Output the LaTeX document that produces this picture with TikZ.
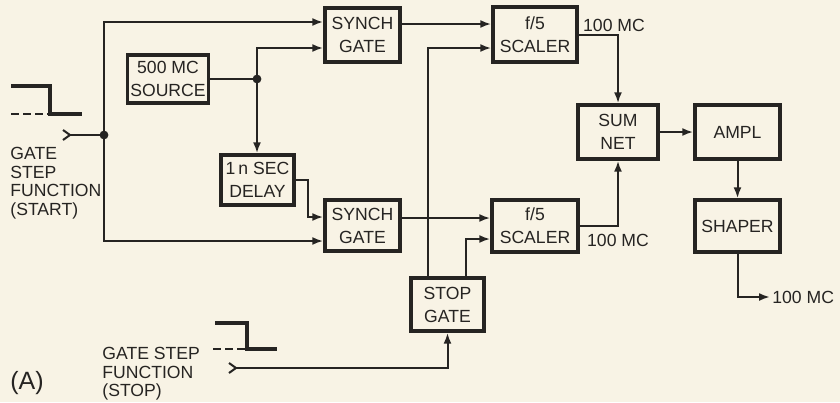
\documentclass[tikz,border=0pt]{standalone}
\usepackage{fontspec}
\setmainfont{Liberation Sans}
\usetikzlibrary{shapes, arrows, positioning, calc}
\usetikzlibrary{arrows.meta}
\definecolor{paper}{RGB}{248,243,229}
\definecolor{ink}{RGB}{38,36,34}

\begin{document}
\begin{tikzpicture}[
    x=0.5pt, y=-0.5pt,
    font=\fontsize{8.8}{11.5}\selectfont,
    block/.style={rectangle, draw=ink, line width=1.7pt, text=ink, align=center, inner sep=0pt},
    line/.style={draw=ink, -{Latex[length=5.5pt, width=4pt]}, line width=1pt},
    wire/.style={draw=ink, line width=1pt},
    tail/.style={draw=ink, {Straight Barb[reversed, length=3.5pt, width=5pt]}-, line width=1pt},
    both/.style={draw=ink, {Straight Barb[reversed, length=3.5pt, width=5pt]}-{Latex[length=5.5pt, width=4pt]}, line width=1pt},
    pulse/.style={draw=ink, line width=1.6pt},
    note/.style={text=ink, inner sep=0pt}
]

\fill [paper] (0,0) rectangle (840,402);
\useasboundingbox (0,0) rectangle (840,402);

% blocks
\node [block, minimum width=40.5pt, minimum height=24pt] (source) at (168,79) {500 MC\\SOURCE};
\node [block, minimum width=37.5pt, minimum height=27pt] (synchA) at (362.5,35) {SYNCH\\GATE};
\node [block, minimum width=42pt, minimum height=27.5pt] (scalerA) at (535,34.5) {f/5\\SCALER};
\node [block, minimum width=36.5pt, minimum height=25pt] (delay) at (257.5,180) {1\,n SEC\\DELAY};
\node [block, minimum width=37.5pt, minimum height=25.5pt] (synchB) at (362.5,225.5) {SYNCH\\GATE};
\node [block, minimum width=43pt, minimum height=26pt] (scalerB) at (535,226) {f/5\\SCALER};
\node [block, minimum width=36.5pt, minimum height=26.5pt] (stop) at (447.5,304.5) {STOP\\GATE};
\node [block, minimum width=40pt, minimum height=27pt] (sum) at (618,132) {SUM\\NET};
\node [block, minimum width=42.5pt, minimum height=27pt] (ampl) at (737.5,132) {AMPL};
\node [block, minimum width=42.5pt, minimum height=26pt] (shaper) at (737.5,226) {SHAPER};

% free ends and junctions
\coordinate (startin) at (62,135);
\coordinate (startdot) at (104,135);
\coordinate (srcdot) at (257,79);
\coordinate (stopin) at (228,368);
\coordinate (out) at (770,297);

% start input
\path [tail] (startin) -- (startdot);
\path [line] (startdot) |- ($(synchA.west)+(0,-13)$);
\path [line] (startdot) |- ($(synchB.west)+(0,15.5)$);
\fill [ink] (startdot) circle (2.2pt);

% source and delay
\path [wire] (source) -- (srcdot);
\path [line] (srcdot) |- ($(synchA.west)+(0,13)$);
\path [line] (srcdot) -- (srcdot |- delay.north);
\fill [ink] (srcdot) circle (2.2pt);
\path [line] (delay.east) -- ++(12,0) |- ($(synchB.west)+(0,-8.5)$);

% gates to scalers
\path [line] ($(synchA.east)+(0,-11)$) coordinate (aout) -- (aout -| scalerA.west);
\path [line] ($(synchB.east)+(0,-7.5)$) coordinate (bout) -- (bout -| scalerB.west);
\path [line] ($(stop.north)+(-19.5,0)$) |- ($(scalerA.west)+(0,13.5)$);
\path [line] ($(stop.north)+(18.5,0)$) |- ($(scalerB.west)+(0,13)$);
\path [both] (stopin) -| (stop);

% summing and output
\path [line] (scalerA) -| (sum);
\path [line] (scalerB) -| (sum);
\path [line] (sum) -- (ampl);
\path [line] (ampl) -- (shaper);
\path [line] (shaper) |- (out);

\node [note] (mcA) at (614,25) {100 MC};
\node [note] (mcB) at (618,240) {100 MC};
\node [note, right=1pt of out] (mcC) {100 MC};

% step functions
\path [pulse] (11,86) -- (50,86) -- (50,114) -- (82,114);
\path [pulse, line width=1.1pt, dash pattern=on 4pt off 2pt] (11,114) -- (50,114);
\path [pulse] (215,323) -- (247,323) -- (247,349) -- (277,349);
\path [pulse, line width=1.1pt, dash pattern=on 4pt off 2pt] (213,349) -- (247,349);

\node [note, anchor=north west, align=left, font=\fontsize{8.8}{9.3}\selectfont] (startlbl) at (10,147) {GATE\\STEP\\FUNCTION\\(START)};
\node [note, anchor=north west, align=left, font=\fontsize{8.8}{9.3}\selectfont] (stoplbl) at (102,347) {GATE STEP\\FUNCTION\\(STOP)};
\node [note, anchor=west, font=\fontsize{12.5}{14}\selectfont] (fig) at (10,383) {(A)};

\end{tikzpicture}
\end{document}
